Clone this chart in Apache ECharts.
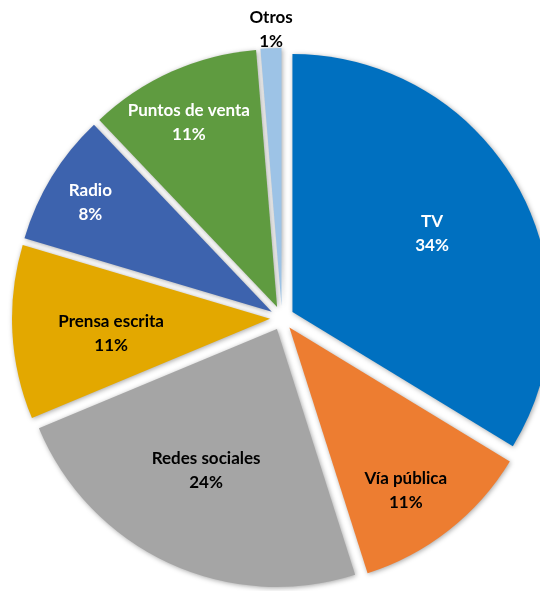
<!DOCTYPE html>
<html><head><meta charset="utf-8">
<script src="https://cdn.jsdelivr.net/npm/echarts@6/dist/echarts.min.js"></script>
<style>html,body{margin:0;padding:0;background:#fff}#c{width:540px;height:591px}</style>
</head><body><div id="c"></div>
<script>
const categories = ['TV', 'Vía pública', 'Redes sociales', 'Prensa escrita', 'Radio', 'Puntos de venta', 'Otros'];
// shares (labels show rounded %)
const values = [33.7, 11.4, 23.6, 10.9, 8.3, 10.8, 1.3];
const colors = ['#0070C0', '#ED7D31', '#A5A5A5', '#E3A800', '#3D63AE', '#5F9B40', '#9DC3E6'];
const labelColors = ['#ffffff', '#000000', '#000000', '#000000', '#ffffff', '#ffffff', '#000000'];
// label placement (style): radial position as fraction of radius, plus small nudge in px
const labelRadial = [0.62, 0.775, 0.61, 0.611, 0.82, 0.792, 1.074];
const labelNudge = [[-2.5, 1], [-9, 4], [-3.5, -3.5], [1.5, 6], [1.5, 3], [-3.5, 5], [1, 3]];

const CENTER = [282, 318];
const R = 258;
const OFFSET = 12;

const font = { fontFamily: 'Lato', fontWeight: 'bold', fontSize: 17, lineHeight: 24 };

const base = {
  type: 'pie',
  startAngle: 90,
  clockwise: true,
  selectedMode: 'multiple',
  selectedOffset: OFFSET,
  percentPrecision: 0,
  avoidLabelOverlap: false,
  animation: false,
  emphasis: { disabled: true },
  labelLine: { show: false }
};

const mainSeries = Object.assign({}, base, {
  center: CENTER,
  radius: [0, R],
  label: { show: false },
  itemStyle: { shadowBlur: 5, shadowColor: 'rgba(0,0,0,0.35)', shadowOffsetX: 1, shadowOffsetY: 1 },
  data: categories.map((c, i) => ({
    name: c, value: values[i], selected: true,
    itemStyle: { color: colors[i] }
  }))
});

const labelSeries = categories.map((cat, li) => Object.assign({}, base, {
  center: [CENTER[0] + labelNudge[li][0], CENTER[1] + labelNudge[li][1]],
  radius: [0, 2 * labelRadial[li] * R],
  silent: true,
  z: 3,
  itemStyle: { color: 'rgba(0,0,0,0)' },
  label: Object.assign({ show: true, position: 'inside', formatter: '{b}\n{d}%' }, font),
  data: categories.map((c, i) => ({
    name: c, value: values[i], selected: true,
    itemStyle: { color: 'rgba(0,0,0,0)' },
    label: { show: i === li, color: labelColors[i] }
  }))
}));

const chart = echarts.init(document.getElementById('c'), null, { renderer: 'canvas' });
chart.setOption({
  backgroundColor: '#ffffff',
  animation: false,
  tooltip: { show: false },
  series: [mainSeries].concat(labelSeries)
});
</script>
</body></html>
